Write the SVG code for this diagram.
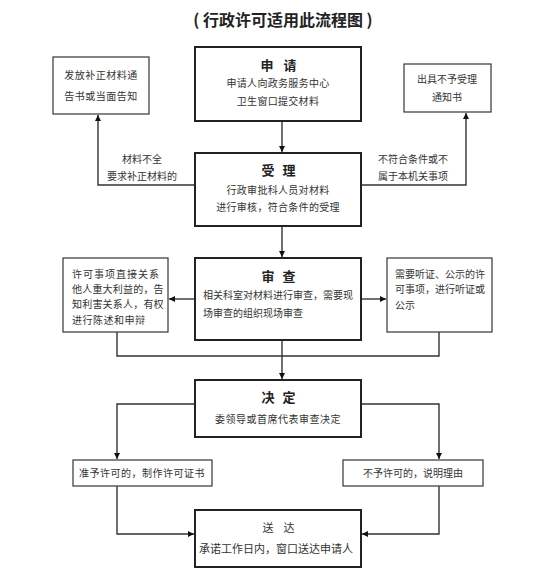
<svg xmlns="http://www.w3.org/2000/svg" width="560" height="579" viewBox="0 0 560 579">
<defs>
<style>
text{font-family:"Noto Sans CJK SC","Noto Sans CJK TC",sans-serif;fill:#333;}
.t{font-size:10px;}
.c{text-anchor:middle;}
.h{font-size:13px;font-weight:bold;fill:#222;text-anchor:middle;}
.main{fill:#fff;stroke:#222;stroke-width:2;}
.side{fill:#fff;stroke:#444;stroke-width:1.3;}
.ln{fill:none;stroke:#333;stroke-width:1.4;}
</style>
<marker id="ah" viewBox="0 0 10 10" refX="10" refY="5" markerWidth="6" markerHeight="6" orient="auto" markerUnits="userSpaceOnUse">
<path d="M0,0 L10,5 L0,10 z" fill="#111"/>
</marker>
</defs>
<rect width="560" height="579" fill="#fff"/>
<text x="283" y="26" style="font-size:16px;font-weight:bold;fill:#222;" text-anchor="middle">(  行政许可适用此流程图  )</text>

<g id="connectors">
<path class="ln" d="M282,121 V152" marker-end="url(#ah)"/>
<path class="ln" d="M195,185 H98 V115" marker-end="url(#ah)"/>
<path class="ln" d="M361,185 H466 V113" marker-end="url(#ah)"/>
<path class="ln" d="M282,226 V257" marker-end="url(#ah)"/>
<path class="ln" d="M195,299 H169" marker-end="url(#ah)"/>
<path class="ln" d="M361,299 H386" marker-end="url(#ah)"/>
<path class="ln" d="M117,332 V356 H439 V332"/>
<path class="ln" d="M282,340 V379" marker-end="url(#ah)"/>
<path class="ln" d="M195,404 H117 V459" marker-end="url(#ah)"/>
<path class="ln" d="M361,404 H439 V459" marker-end="url(#ah)"/>
<path class="ln" d="M117,486 V534 H194" marker-end="url(#ah)"/>
<path class="ln" d="M439,486 V534 H362" marker-end="url(#ah)"/>
<text class="t c" x="142" y="163">材料不全</text>
<text class="t c" x="142" y="180">要求补正材料的</text>
<text class="t c" x="413" y="163">不符合条件或不</text>
<text class="t c" x="413" y="180">属于本机关事项</text>
</g>

<g id="apply">
<rect class="main" x="195" y="47" width="166" height="74"/>
<text class="h" x="267 290" y="70">申请</text>
<text class="t c" x="278" y="87" letter-spacing="0.3">申请人向政务服务中心</text>
<text class="t c" x="278" y="105" letter-spacing="0.3">卫生窗口提交材料</text>
</g>

<g id="notice-supplement">
<rect class="side" x="53" y="57" width="96" height="57"/>
<text class="t c" x="101" y="79" letter-spacing="0.5">发放补正材料通</text>
<text class="t c" x="101" y="100" letter-spacing="0.5">告书或当面告知</text>
</g>

<g id="notice-reject">
<rect class="side" x="404" y="64" width="87" height="48"/>
<text class="t c" x="447" y="83">出具不予受理</text>
<text class="t c" x="447" y="101">通知书</text>
</g>

<g id="accept">
<rect class="main" x="195" y="153" width="166" height="73"/>
<text class="h" x="268 289" y="175">受理</text>
<text class="t c" x="278" y="194" letter-spacing="0.3">行政审批科人员对材料</text>
<text class="t c" x="278" y="211" letter-spacing="0.3">进行审核，符合条件的受理</text>
</g>

<g id="review">
<rect class="main" x="195" y="258" width="166" height="82"/>
<text class="h" x="268 289" y="281">审查</text>
<text class="t" x="203" y="299">相关科室对材料进行审查，需要现</text>
<text class="t" x="203" y="317">场审查的组织现场审查</text>
</g>

<g id="stakeholders">
<rect class="side" x="63" y="258" width="105" height="74"/>
<text class="t" x="72" y="278" letter-spacing="1">许可事项直接关系</text>
<text class="t" x="72" y="293" letter-spacing="0.2">他人重大利益的，告</text>
<text class="t" x="72" y="308" letter-spacing="0.2">知利害关系人，有权</text>
<text class="t" x="72" y="324" letter-spacing="0.5">进行陈述和申辩</text>
</g>

<g id="hearing">
<rect class="side" x="387" y="258" width="105" height="74"/>
<text class="t" x="395" y="278">需要听证、公示的许</text>
<text class="t" x="395" y="293">可事项，进行听证或</text>
<text class="t" x="395" y="309">公示</text>
</g>

<g id="decide">
<rect class="main" x="195" y="380" width="166" height="57"/>
<text class="h" x="268 289" y="402">决定</text>
<text class="t c" x="278" y="423" letter-spacing="0.5">委领导或首席代表审查决定</text>
</g>

<g id="grant">
<rect class="side" x="73" y="460" width="139" height="26"/>
<text class="t c" x="142" y="477" letter-spacing="0.5">准予许可的，制作许可证书</text>
</g>

<g id="deny">
<rect class="side" x="343" y="460" width="140" height="26"/>
<text class="t c" x="413" y="477">不予许可的，说明理由</text>
</g>

<g id="deliver">
<rect class="main" x="195" y="510" width="166" height="57"/>
<text class="t c" x="268 289" y="532" style="font-size:11px;">送达</text>
<text class="t c" x="276" y="553" style="font-size:11px;">承诺工作日内，窗口送达申请人</text>
</g>
</svg>
